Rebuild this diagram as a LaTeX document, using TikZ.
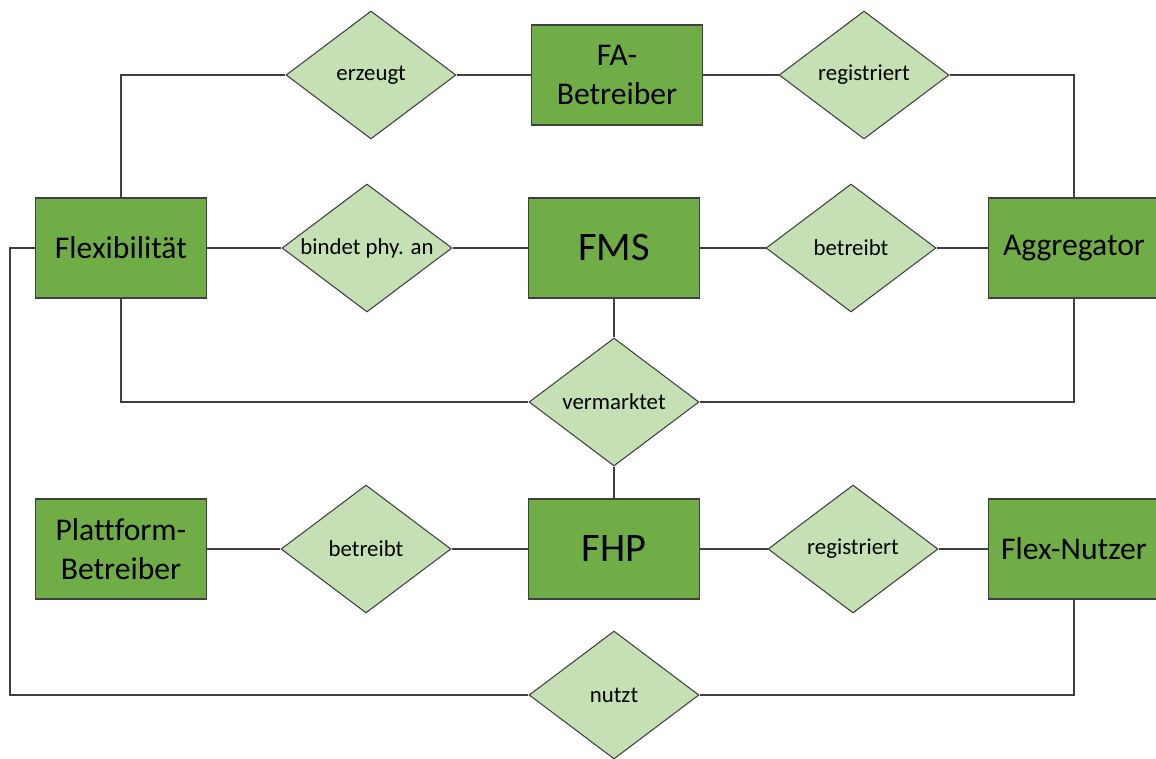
\documentclass[tikz,border=0pt]{standalone}
\usepackage{fontspec}
\setmainfont{Carlito}[Ligatures={NoCommon}]
\usetikzlibrary{shapes.geometric}

\definecolor{boxgreen}{HTML}{70AD47}
\definecolor{palegreen}{HTML}{C5E0B4}
\definecolor{edgegrey}{HTML}{404040}

\begin{document}
\begin{tikzpicture}[
    x=0.02cm, y=-0.02cm,
    entity/.style={draw=edgegrey, line width=0.8pt, fill=boxgreen, minimum width=3.42cm, minimum height=2cm, align=center, inner sep=0pt, font=\fontsize{18}{22}\selectfont},
    big/.style={font=\fontsize{23}{27}\selectfont},
    relation/.style={diamond, draw=edgegrey, line width=0.6pt, fill=palegreen, shape aspect=1.33, minimum width=3.4cm, minimum height=2.56cm, inner sep=0pt, font=\fontsize{13}{15}\selectfont},
    link/.style={draw=edgegrey, line width=0.6pt}
]
\clip (0,0) rectangle (1156,758);

% entities and relations
\node[entity] (fa) at (617,75) {FA-\\Betreiber};
\node[relation] (erz) at (371,75) {erzeugt};
\node[relation] (regtop) at (864,75) {registriert};
\node[entity] (flex) at (121,248) {Flexibilität};
\node[relation] (bind) at (367,248) {bindet phy. an};
\node[entity, big] (fms) at (614,248) {FMS};
\node[relation] (betr1) at (851,248) {betreibt};
\node[entity] (agg) at (1074,248) {Aggregator};
\node[relation] (verm) at (614,402) {vermarktet};
\node[entity] (plat) at (121,549) {Plattform-\\Betreiber};
\node[relation] (betr2) at (366,549) {betreibt};
\node[entity, big] (fhp) at (614,549) {FHP};
\node[relation] (regbot) at (853,549) {registriert};
\node[entity] (nutzer) at (1074,549) {Flex-Nutzer};
\node[relation] (nutzt) at (614,695) {nutzt};
\coordinate (bend) at (10,248);

% connectors
\draw[link] (flex.north) |- (erz.west);
\draw[link] (erz.east) -- (fa.west);
\draw[link] (fa.east) -- (regtop.west);
\draw[link] (regtop.east) -| (agg.north);
\draw[link] (flex.east) -- (bind.west);
\draw[link] (bind.east) -- (fms.west);
\draw[link] (fms.east) -- (betr1.west);
\draw[link] (betr1.east) -- (agg.west);
\draw[link] (fms.south) -- (verm.north);
\draw[link] (verm.south) -- (fhp.north);
\draw[link] (flex.south) |- (verm.west);
\draw[link] (verm.east) -| (agg.south);
\draw[link] (plat.east) -- (betr2.west);
\draw[link] (betr2.east) -- (fhp.west);
\draw[link] (fhp.east) -- (regbot.west);
\draw[link] (regbot.east) -- (nutzer.west);
\draw[link] (flex.west) -- (bend) |- (nutzt.west);
\draw[link] (nutzt.east) -| (nutzer.south);
\end{tikzpicture}
\end{document}
